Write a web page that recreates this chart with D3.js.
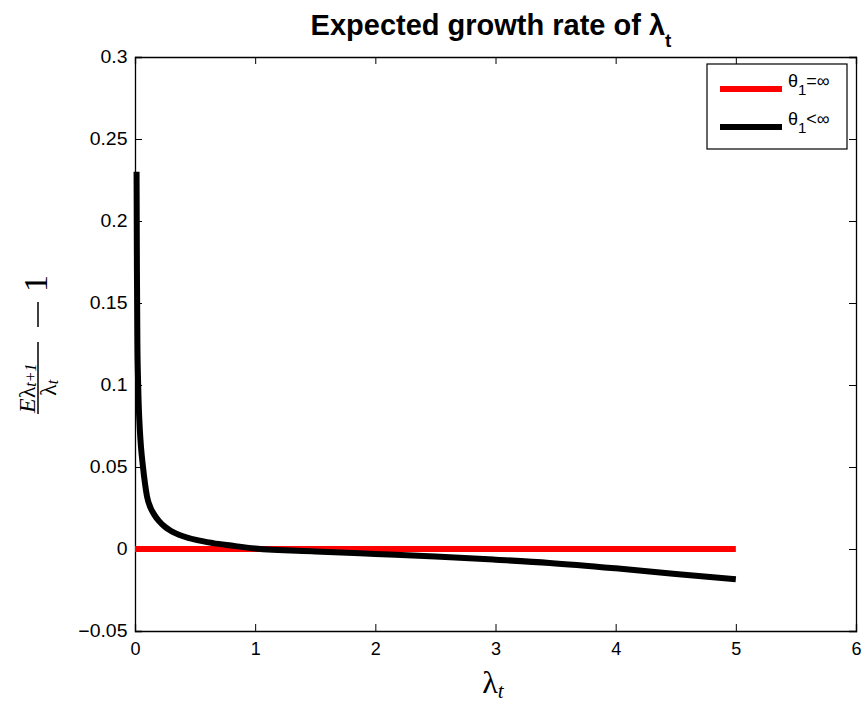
<!DOCTYPE html>
<html>
<head>
<meta charset="utf-8">
<script src="https://cdn.jsdelivr.net/npm/d3@7"></script>
<style>
  body { margin: 0; background: #fff; }
  text { font-family: "Liberation Sans", Arial, sans-serif; }
  .math { font-family: "Liberation Serif", "Times New Roman", serif; font-style: italic; }
</style>
</head>
<body>
<div id="chart"></div>
<script>
var svgWidth = 862;
var svgHeight = 709;

var margin = { top: 57, right: 6, bottom: 78, left: 135 };
var width = svgWidth - margin.left - margin.right;
var height = svgHeight - margin.top - margin.bottom;

// data
var xTicks = [0, 1, 2, 3, 4, 5, 6];
var yTicks = [-0.05, 0, 0.05, 0.1, 0.15, 0.2, 0.25, 0.3];

var lambdaInf = [0, 5];
var growthInf = [0, 0];

var lambdaFin = [0.013, 0.016, 0.02, 0.025, 0.03, 0.04, 0.05, 0.065, 0.083, 0.1, 0.13, 0.16, 0.2, 0.25, 0.3, 0.4, 0.5, 0.65, 0.8, 1.0, 1.5, 2.0, 2.5, 3.0, 3.45, 4.0, 4.5, 5.0];
var growthFin = [0.23, 0.17, 0.125, 0.104, 0.09, 0.073, 0.062, 0.051, 0.04, 0.032, 0.025, 0.021, 0.017, 0.0135, 0.011, 0.0078, 0.0057, 0.0036, 0.0021, 0.0003, -0.0015, -0.003, -0.0045, -0.0065, -0.0085, -0.0118, -0.0152, -0.0185];

var svg = d3.select("#chart")
  .append("svg")
  .attr("width", svgWidth)
  .attr("height", svgHeight);

var g = svg.append("g")
  .attr("transform", "translate(" + margin.left + "," + margin.top + ")");

var x = d3.scaleLinear().domain([0, 6]).range([0, width]);
var y = d3.scaleLinear().domain([-0.05, 0.3]).range([height, 0]);

function fmt(d) {
  if (d === 0) return "0";
  return (d < 0 ? "\u22120" : "0") + String(+Math.abs(d).toFixed(2)).slice(1);
}

// axes, ticks pointing inward
var xAxis = g.append("g")
  .attr("transform", "translate(0," + height + ")")
  .call(d3.axisBottom(x).tickValues(xTicks).tickSize(-7).tickPadding(9).tickFormat(d3.format("d")));
var yAxis = g.append("g")
  .call(d3.axisLeft(y).tickValues(yTicks).tickSize(-7).tickPadding(7).tickFormat(fmt));
g.append("g")
  .call(d3.axisTop(x).tickValues(xTicks).tickSize(-7).tickFormat(""));
g.append("g")
  .attr("transform", "translate(" + width + ",0)")
  .call(d3.axisRight(y).tickValues(yTicks).tickSize(-7).tickFormat(""));

g.selectAll(".domain").attr("stroke", "#000").attr("stroke-width", 1.3);
g.selectAll(".tick line").attr("stroke", "#000");
g.selectAll(".tick text")
  .attr("fill", "#000")
  .style("font-size", "18px")
  .style("font-family", "'Liberation Sans', Arial, sans-serif");
xAxis.selectAll(".tick text").attr("dy", "0.85em");
yAxis.selectAll(".tick text").attr("x", -7).attr("transform", "scale(1.08,1)");

// lines
var line = d3.line()
  .x(d => x(d[0]))
  .y(d => y(d[1]));

g.append("path")
  .datum(d3.zip(lambdaInf, growthInf))
  .attr("d", line)
  .attr("fill", "none")
  .attr("stroke", "#ff0000")
  .attr("stroke-width", 6);

g.append("path")
  .datum(d3.zip(lambdaFin, growthFin))
  .attr("d", line.curve(d3.curveMonotoneX))
  .attr("fill", "none")
  .attr("stroke", "#000")
  .attr("stroke-width", 6);

// title
var title = svg.append("text")
  .attr("x", 491)
  .attr("y", 35)
  .attr("text-anchor", "middle")
  .style("font-size", "29px")
  .style("font-weight", "bold");
title.append("tspan").text("Expected growth rate of \u03bb");
title.append("tspan").attr("dy", 12).style("font-size", "19px").text("t");

// x label
var xl = svg.append("text")
  .attr("class", "math")
  .attr("x", 493)
  .attr("y", 693)
  .attr("text-anchor", "middle")
  .style("font-size", "32px");
xl.append("tspan").style("font-style", "normal").text("\u03bb");
xl.append("tspan").attr("dy", 5).style("font-size", "21px").text("t");

// y label (fraction, rotated)
var yl = svg.append("g").attr("transform", "rotate(-90)");
var num = yl.append("text").attr("class", "math")
  .attr("x", -413).attr("y", 35).style("font-size", "24px");
num.append("tspan").text("E");
num.append("tspan").style("font-style", "normal").text("\u03bb");
num.append("tspan").attr("dy", 1).style("font-size", "16px").text("t+1");
yl.append("line")
  .attr("x1", -414).attr("x2", -342)
  .attr("y1", 38).attr("y2", 38)
  .attr("stroke", "#000").attr("stroke-width", 1.5);
var den = yl.append("text").attr("class", "math")
  .attr("x", -396).attr("y", 56).style("font-size", "24px");
den.append("tspan").style("font-style", "normal").text("\u03bb");
den.append("tspan").attr("dy", 2).style("font-size", "16px").text("t");
yl.append("line")
  .attr("x1", -327).attr("x2", -302)
  .attr("y1", 38).attr("y2", 38)
  .attr("stroke", "#000").attr("stroke-width", 1.5);
yl.append("text")
  .attr("x", -292).attr("y", 47)
  .style("font-family", "'Liberation Serif', serif")
  .style("font-size", "34px")
  .text("1");

// legend
var legend = svg.append("g").attr("transform", "translate(707,64)");
legend.append("rect")
  .attr("width", 140).attr("height", 85)
  .attr("fill", "#fff").attr("stroke", "#000").attr("stroke-width", 1.2);
var legendItems = [
  { color: "#ff0000", rel: "=" },
  { color: "#000", rel: "<" }
];
legendItems.forEach(function(d, i) {
  var yy = 25 + i * 38;
  legend.append("line")
    .attr("x1", 13).attr("x2", 75)
    .attr("y1", yy).attr("y2", yy)
    .attr("stroke", d.color).attr("stroke-width", 6);
  var t = legend.append("text").attr("x", 81).attr("y", yy - 2).style("font-size", "18px");
  t.append("tspan").text("\u03b8");
  t.append("tspan").attr("dy", 8).style("font-size", "15px").text("1");
  t.append("tspan").attr("dy", -8).text(d.rel + "\u221e");
});
</script>
</body>
</html>
